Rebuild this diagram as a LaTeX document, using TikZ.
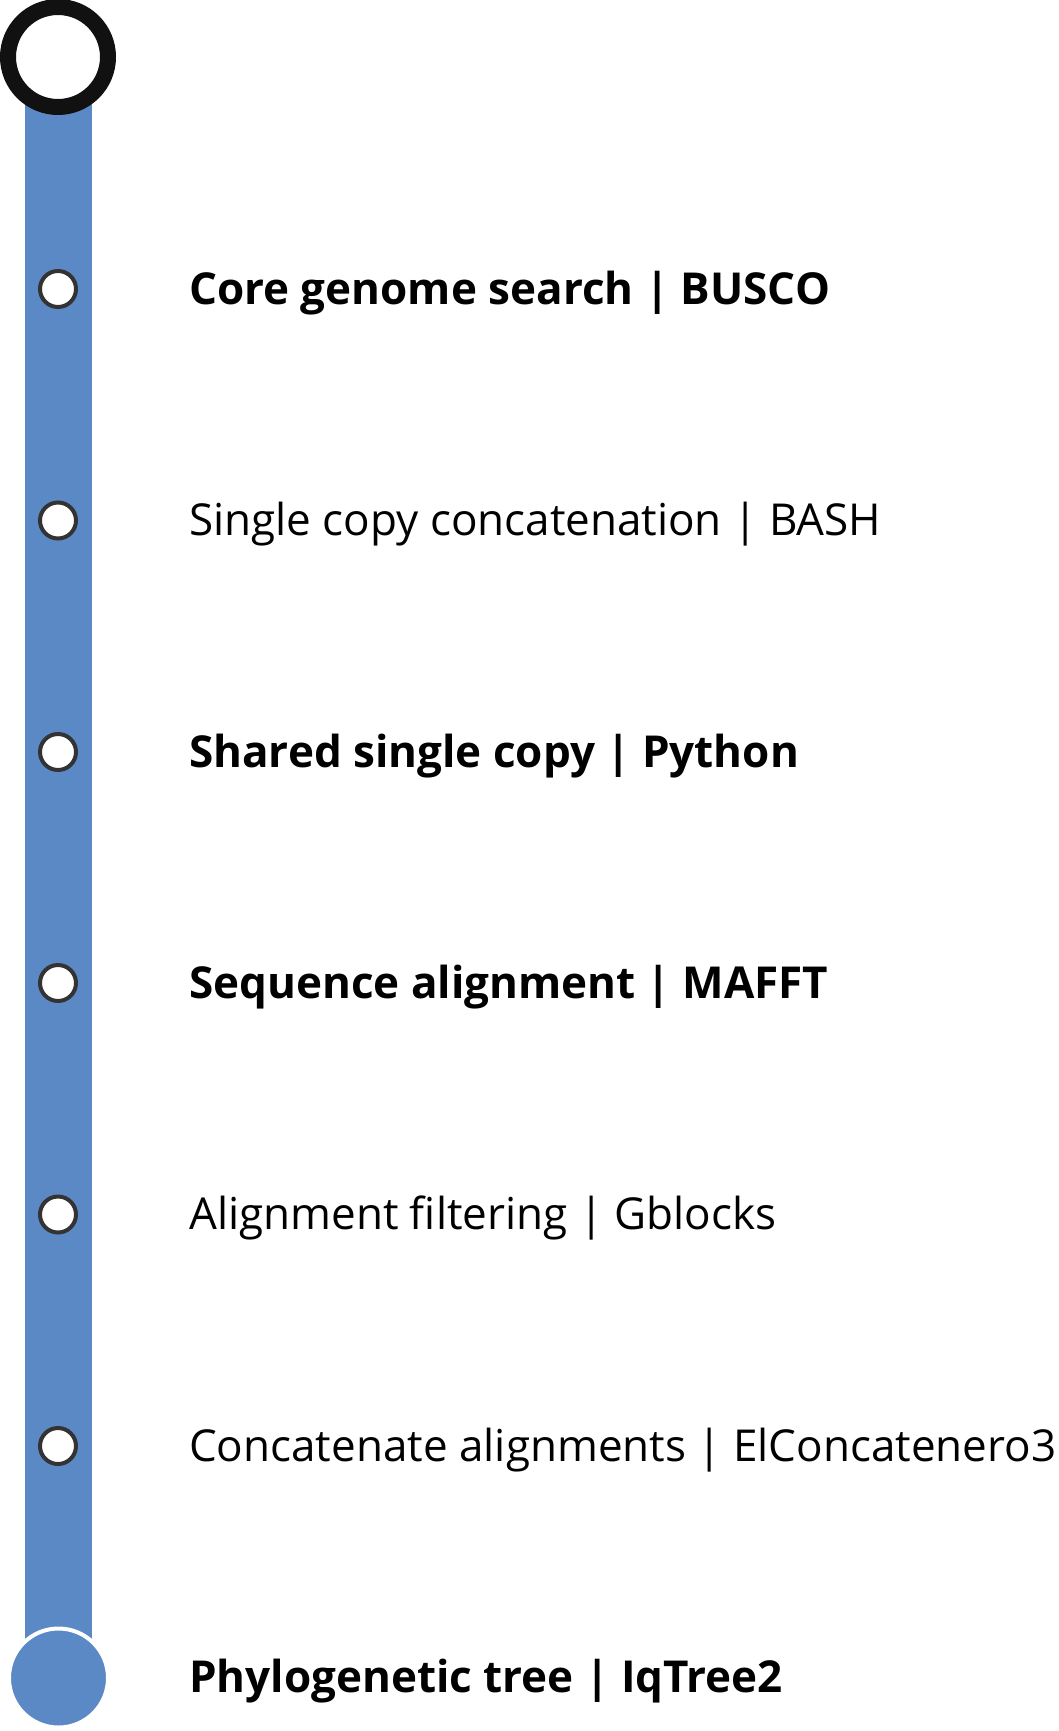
\documentclass[tikz,border=0pt]{standalone}
\usepackage{fontspec}
\setmainfont{Open Sans}
\definecolor{barblue}{HTML}{5B89C5}
\definecolor{ringblack}{HTML}{111111}
\definecolor{stationgray}{HTML}{333333}
\begin{document}
\begin{tikzpicture}[x=1pt,y=-1pt,
  ring/.style={circle, draw=ringblack, line width=16pt, fill=white, minimum size=100pt, inner sep=0pt},
  station/.style={circle, draw=stationgray, line width=4pt, fill=white, minimum size=36pt, inner sep=0pt},
  endstop/.style={circle, draw=white, line width=4pt, fill=barblue, minimum size=99pt, inner sep=0pt},
  lbl/.style={anchor=base west, inner sep=0pt, font=\fontsize{44}{44}\selectfont},
  blbl/.style={lbl, font=\fontsize{44}{44}\selectfont\bfseries}]
\useasboundingbox (0,0) rectangle (1059,1731);
\coordinate (barA) at (25,57);
\coordinate (barB) at (92,1677);
\fill[barblue] (barA) rectangle (barB);
\node[ring] (top) at (58,57) {};
\node[station] (s1) at (58,289) {};
\node[station] (s2) at (58,520.5) {};
\node[station] (s3) at (58,752) {};
\node[station] (s4) at (58,983) {};
\node[station] (s5) at (58,1214.5) {};
\node[station] (s6) at (58,1446) {};
\node[endstop] (bot) at (58.5,1678) {};
\node[blbl] (t1) at (189,304) {Core genome search | BUSCO};
\node[lbl] (t2) at (189,535.5) {Single copy concatenation | BASH};
\node[blbl] (t3) at (189,767) {Shared single copy | Python};
\node[blbl] (t4) at (189,998) {Sequence alignment | MAFFT};
\node[lbl] (t5) at (189,1229.5) {Alignment filtering | Gblocks};
\node[lbl] (t6) at (189,1461) {Concatenate alignments | ElConcatenero3};
\node[blbl] (t7) at (189,1692) {Phylogenetic tree | IqTree2};
\end{tikzpicture}
\end{document}
